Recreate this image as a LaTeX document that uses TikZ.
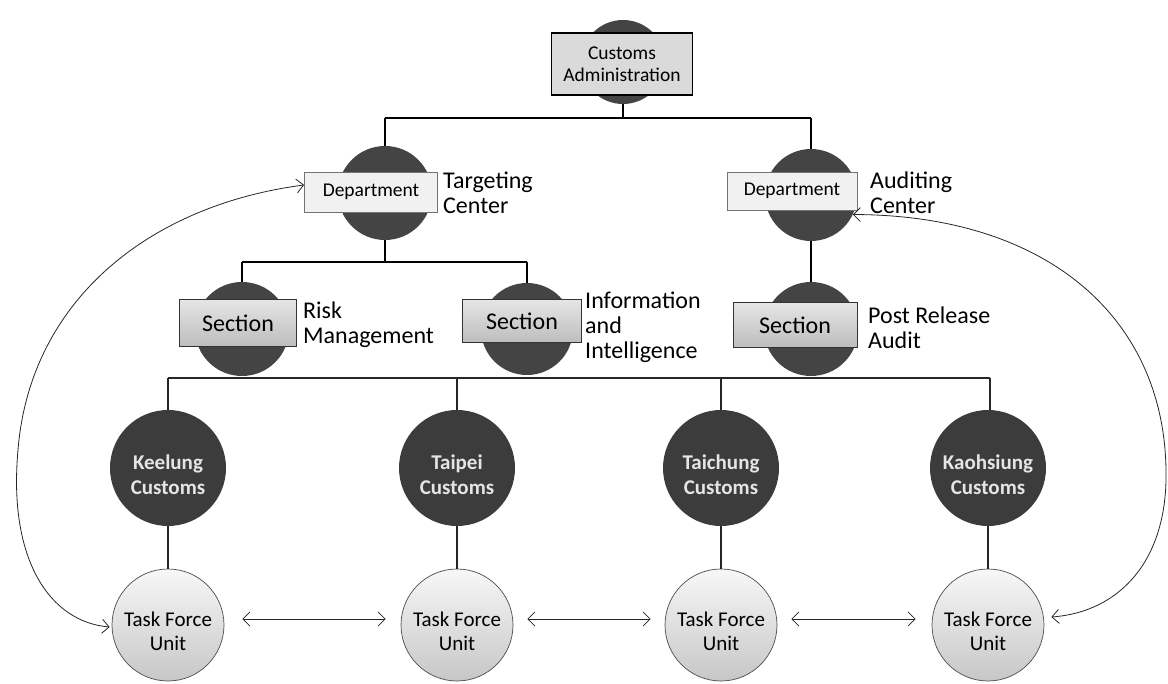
\documentclass[tikz,border=0pt]{standalone}
\usepackage{fontspec}
\setmainfont{Carlito}
\usetikzlibrary{arrows.meta}
\definecolor{darkc}{HTML}{444444}
\definecolor{regc}{HTML}{3C3C3C}
\definecolor{boxg}{HTML}{DADADA}
\definecolor{deptg}{HTML}{F1F1F1}
\definecolor{secg}{HTML}{D2D2D2}
\begin{document}
\begin{tikzpicture}[x=1pt,y=-1pt,
  darkcirc/.style={circle,fill=darkc,inner sep=0pt},
  regcirc/.style={circle,fill=regc,inner sep=0pt,minimum size=116pt},
  regtxt/.style={align=center,inner sep=0pt,yshift=-7pt,
     text=white!90!black,font=\fontsize{21}{25}\selectfont\bfseries},
  tfcirc/.style={circle,draw=black!70,line width=0.7pt,inner sep=0pt,minimum size=112pt,
     top color=white!97!black,bottom color=black!22},
  tftxt/.style={align=center,inner sep=0pt,yshift=-6pt,font=\fontsize{21}{24}\selectfont},
  adminbox/.style={rectangle,draw=black,line width=1.3pt,fill=boxg,inner sep=0pt,align=center,
     font=\fontsize{19.5}{22}\selectfont},
  deptbox/.style={rectangle,draw=black!55,line width=0.8pt,fill=deptg,inner sep=0pt,
     font=\fontsize{19.5}{22}\selectfont},
  secbox/.style={rectangle,draw=black!80,line width=0.9pt,top color=white!90!black,bottom color=secg!90!black,inner sep=0pt,
     font=\fontsize{24}{26}\selectfont},
  sidetext/.style={anchor=west,align=left,inner sep=0pt,font=\fontsize{24}{25}\selectfont},
  thickline/.style={line width=2.4pt,black},
  thinline/.style={line width=1.1pt,black!85},
  dbl/.style={line width=0.8pt,black!85,{Straight Barb[length=7pt,width=14pt]}-{Straight Barb[length=7pt,width=14pt]}}
]
\useasboundingbox (0,0) rectangle (1168,684);

% top
\node[darkcirc,minimum size=84pt] (adminC) at (623,62) {};
\node[adminbox,minimum width=141pt,minimum height=62pt] (admin) at (622,64) {Customs\\Administration};

% departments
\node[darkcirc,minimum size=94pt] (deptLc) at (385,193) {};
\node[deptbox,minimum width=133pt,minimum height=40pt] (deptL) at (371,192) {Department};
\node[sidetext] (tgt) at (443,193) {Targeting\\Center};

\node[darkcirc,minimum size=92pt] (deptRc) at (811,195) {};
\node[deptbox,minimum width=130pt,minimum height=38pt] (deptR) at (792,191) {Department};
\node[sidetext] (aud) at (870,193) {Auditing\\Center};

% sections
\node[darkcirc,minimum size=94pt] (secLc) at (242,329) {};
\node[secbox,minimum width=117pt,minimum height=47pt] (secL) at (238,323) {Section};
\node[sidetext] (risk) at (303,325) {Risk\\Management};

\node[darkcirc,minimum size=92pt] (secMc) at (527,329) {};
\node[secbox,minimum width=119pt,minimum height=43pt] (secM) at (522,321) {Section};
\node[sidetext] (info) at (585,327) {Information\\and\\Intelligence};

\node[darkcirc,minimum size=94pt] (secRc) at (811,329) {};
\node[secbox,minimum width=124pt,minimum height=45pt] (secR) at (795,325) {Section};
\node[sidetext] (post) at (868,328) {Post Release\\Audit};

% regional customs
\node[regcirc,label={[regtxt]center:{Keelung\\Customs}}] (kee) at (168,468) {};
\node[regcirc,label={[regtxt]center:{Taipei\\Customs}}] (tpe) at (457,468) {};
\node[regcirc,label={[regtxt]center:{Taichung\\Customs}}] (tch) at (721,468) {};
\node[regcirc,label={[regtxt]center:{Kaohsiung\\Customs}}] (kao) at (988,468) {};

% task force units
\node[tfcirc,label={[tftxt]center:{Task Force\\Unit}}] (tf1) at (168,625) {};
\node[tfcirc,label={[tftxt]center:{Task Force\\Unit}}] (tf2) at (457,625) {};
\node[tfcirc,label={[tftxt]center:{Task Force\\Unit}}] (tf3) at (721,625) {};
\node[tfcirc,label={[tftxt]center:{Task Force\\Unit}}] (tf4) at (988,625) {};

% junctions
\coordinate (j1M) at (623,118);
\coordinate (j1L) at (385,118);
\coordinate (j1R) at (811,118);
\coordinate (j2M) at (385,262);
\coordinate (j2L) at (242,262);
\coordinate (j2R) at (527,262);
\coordinate (j3a) at (168,378);
\coordinate (j3b) at (457,378);
\coordinate (j3c) at (721,378);
\coordinate (j3d) at (990,378);

\draw[thickline] (adminC) -- (j1M);
\draw[thickline] (j1L) -- (j1R);
\draw[thickline] (j1L) -- (deptLc);
\draw[thickline] (j1R) -- (deptRc);
\draw[thickline] (deptLc) -- (j2M);
\draw[thickline] (j2L) -- (j2R);
\draw[thickline] (j2L) -- (secLc);
\draw[thickline] (j2R) -- (secMc);
\draw[thickline] (deptRc) -- (secRc);

\draw[thinline] (j3a) -- (j3d);
\draw[thinline] (j3a) -- (kee);
\draw[thinline] (j3b) -- (tpe);
\draw[thinline] (j3c) -- (tch);
\draw[thinline] (j3d) -- (j3d |- kao.north);

\draw[thinline] (kee) -- (tf1);
\draw[thinline] (tpe) -- (tf2);
\draw[thinline] (tch) -- (tf3);
\draw[thinline] (kao) -- (tf4);

% horizontal double arrows
\draw[dbl,shorten <=18pt,shorten >=15pt] ([yshift=6pt]tf1.east) -- ([yshift=6pt]tf2.west);
\draw[dbl,shorten <=14pt,shorten >=14pt] ([yshift=6pt]tf2.east) -- ([yshift=6pt]tf3.west);
\draw[dbl,shorten <=14pt,shorten >=16pt] ([yshift=6pt]tf3.east) -- ([yshift=6pt]tf4.west);

% long curved arrows
\coordinate (lc) at (18,450);
\coordinate (rc) at (1166,470);
\draw[dbl] ([yshift=7pt]deptL.west) .. controls (150,205) and (30,300) .. (lc)
   .. controls (8,560) and (50,622) .. ([xshift=-2pt,yshift=-2pt]tf1.west);
\draw[dbl] (deptRc.-25) .. controls (1050,215) and (1164,320) .. (rc)
   .. controls (1168,560) and (1120,612) .. ([xshift=7pt,yshift=8pt]tf4.east);
\end{tikzpicture}
\end{document}
